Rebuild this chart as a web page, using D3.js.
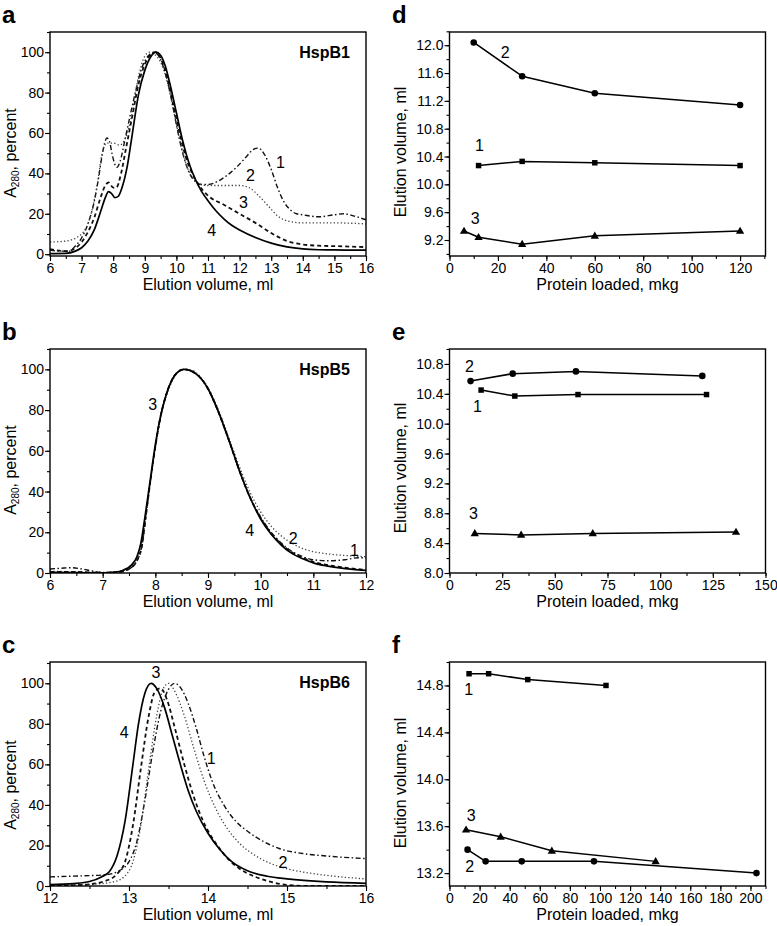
<!DOCTYPE html>
<html><head><meta charset="utf-8">
<script src="https://cdn.jsdelivr.net/npm/d3@7"></script>
<style>
body{margin:0;background:#fff;}
svg{display:block;font-family:"Liberation Sans",Arial,Helvetica,sans-serif;}
</style></head><body>
<svg id="fig" width="777" height="926"></svg>
<script>
// ---------------- DATA ----------------
// Panel a: HspB1 elution profiles (x = ml, y = A280 %)
const hspB1_1 = [[6,2],[6.3,1.5],[6.6,1.5],[6.8,4],[7.0,8],[7.2,15],[7.4,26],[7.55,39],[7.65,49],[7.73,55],[7.8,57.5],[7.88,56],[7.96,50],[8.04,45],[8.12,43],[8.22,46],[8.35,55],[8.5,66],[8.7,80],[8.9,92],[9.1,98],[9.28,100],[9.45,98],[9.6,92],[9.8,80],[10.0,64],[10.2,50],[10.4,40.5],[10.6,36],[10.8,34.5],[11.0,34.5],[11.3,36],[11.6,39],[11.9,43],[12.2,48],[12.45,52],[12.6,52.5],[12.8,49],[13.0,42],[13.2,33],[13.4,26],[13.6,22],[13.8,20],[14.0,19.5],[14.5,18.5],[15.0,19.5],[15.3,20],[15.6,19],[16,17]];
const hspB1_2 = [[6,6],[6.5,6.5],[7.0,10],[7.3,20],[7.5,35],[7.65,50],[7.8,55],[8.0,55],[8.2,54],[8.4,58],[8.6,70],[8.8,88],[9.0,98],[9.15,100],[9.3,99],[9.5,95],[9.7,86],[9.9,72],[10.1,57],[10.3,45],[10.5,38],[10.7,35],[11.0,34],[11.5,34],[12.0,34],[12.3,33],[12.6,29],[12.9,24],[13.2,19],[13.5,16.5],[14.0,15.5],[15,15.5],[16,15]];
const hspB1_3 = [[6,2.5],[6.5,1.5],[6.8,3],[7.0,6],[7.2,11],[7.4,18],[7.6,28],[7.75,34],[7.85,35.5],[8.0,33],[8.1,33],[8.25,40],[8.4,52],[8.6,68],[8.8,84],[9.0,94],[9.2,99],[9.35,100],[9.5,97],[9.7,88],[9.9,74],[10.1,60],[10.3,48],[10.5,40],[10.7,34.5],[11.0,29],[11.5,24.5],[12.0,20],[12.5,15.5],[13.0,10.5],[13.5,6.5],[14.0,4.8],[14.5,4.2],[15,4],[16,3.5]];
const hspB1_4 = [[6,0.3],[6.5,0.4],[6.8,1.5],[7.0,3.2],[7.2,6.5],[7.4,12],[7.6,21],[7.75,28],[7.85,31],[7.95,30],[8.05,28],[8.15,28.5],[8.3,34],[8.45,44],[8.6,59],[8.8,79],[9.0,91],[9.2,98],[9.35,100],[9.5,98.5],[9.65,93],[9.8,84],[10.0,70],[10.2,56],[10.4,45],[10.6,37],[10.8,31],[11.0,26.5],[11.25,21.5],[11.5,17.5],[11.75,14.3],[12.0,12],[12.5,8.3],[13.0,5.5],[13.5,3.6],[14.0,2.6],[14.5,2.2],[15,2.1],[16,2.0]];

// Panel b: HspB5
const hspB5_1 = [[6,2],[6.2,2.3],[6.4,2.6],[6.6,2],[6.8,1],[7.0,0.3],[7.3,0.5],[7.5,2],[7.65,6],[7.75,14],[7.82,28],[7.9,44],[8.0,62],[8.1,77],[8.2,87],[8.3,94],[8.4,98],[8.55,100],[8.7,99],[8.85,96],[9.0,90.5],[9.2,79],[9.4,65],[9.6,50],[9.8,37],[10.0,27.5],[10.2,20],[10.4,14.5],[10.6,10.5],[10.8,8],[11.0,6.5],[11.3,6],[11.6,6.5],[11.85,7.5],[12,7.5]];
const hspB5_2 = [[6,0.8],[6.5,0.6],[7.0,0.2],[7.3,0.8],[7.5,2.5],[7.65,7],[7.75,16],[7.85,34],[7.95,53],[8.05,70],[8.15,82],[8.25,90],[8.38,97],[8.5,100],[8.7,99.5],[8.85,96.5],[9.0,91],[9.2,80],[9.4,66],[9.6,52],[9.8,39.5],[10.0,30],[10.2,23],[10.4,18],[10.6,14.5],[10.8,12],[11.0,10.5],[11.3,9.3],[11.6,8.6],[12,8]];
const hspB5_3 = [[6,0.5],[6.5,0.5],[7.0,0.1],[7.3,0.5],[7.5,2],[7.65,6],[7.75,14],[7.82,28],[7.9,44],[8.0,62],[8.1,77],[8.2,87],[8.3,94],[8.4,98],[8.55,100],[8.7,99],[8.85,96],[9.0,90.5],[9.2,79],[9.4,65],[9.6,50],[9.8,37],[10.0,27],[10.2,19.5],[10.4,14],[10.6,10],[10.8,7.5],[11.0,5.5],[11.25,4],[11.5,3],[11.75,2.2],[12,1.5]];
const hspB5_4 = [[6,0.3],[6.5,0.2],[7.0,0],[7.2,0.3],[7.4,1.5],[7.55,4],[7.65,8],[7.72,14],[7.8,27],[7.9,45],[8.0,63],[8.1,77],[8.2,87],[8.3,94],[8.4,98],[8.55,100],[8.7,99],[8.85,96],[9.0,90.5],[9.2,79],[9.4,65],[9.6,50],[9.8,37],[10.0,26.5],[10.2,19],[10.4,13.5],[10.6,9.5],[10.8,7],[11.0,5],[11.25,3.5],[11.5,2.5],[11.75,1.8],[12,1.3]];

// Panel c: HspB6
const hspB6_1 = [[12,4.5],[12.4,5],[12.7,5.5],[12.85,7],[13.0,12],[13.1,22],[13.2,42],[13.3,66],[13.4,86],[13.5,97],[13.58,100],[13.65,98],[13.75,90],[13.85,78],[13.95,64],[14.05,52],[14.2,40],[14.35,32],[14.5,27],[14.7,22],[14.9,18.5],[15.2,16],[15.5,14.8],[16,13.5]];
const hspB6_2 = [[12,0.3],[12.5,0.8],[12.8,2],[12.95,5],[13.05,12],[13.15,30],[13.25,58],[13.35,84],[13.43,97],[13.5,100],[13.58,96],[13.7,84],[13.82,68],[13.95,52],[14.1,38],[14.25,28],[14.4,21],[14.6,15],[14.8,11],[15,8.5],[15.3,6.3],[15.6,4.8],[16,3.5]];
const hspB6_3 = [[12,0],[12.4,0.5],[12.7,2.5],[12.85,6],[12.95,12],[13.05,30],[13.15,58],[13.25,84],[13.33,96],[13.4,97.5],[13.48,92],[13.58,78],[13.7,60],[13.82,44],[13.95,31],[14.1,21],[14.25,13.5],[14.4,8.5],[14.6,4.5],[14.8,2],[15,0.5],[15.3,0],[16,0]];
const hspB6_4 = [[12,0.7],[12.3,1.2],[12.5,2.2],[12.65,4.5],[12.75,7],[12.85,15],[12.95,32],[13.05,60],[13.12,80],[13.2,95],[13.28,100],[13.35,97.5],[13.45,88],[13.55,74],[13.65,60],[13.75,47],[13.85,37],[14.0,26],[14.15,18],[14.3,12],[14.5,7.5],[14.75,4.8],[15.0,3.5],[15.5,2],[16,1.3]];

// Panel d: HspB1 elution volume vs protein loaded (mkg, ml)
const d_series1 = [[12,10.27],[30,10.33],[60,10.31],[120,10.27]];
const d_series2 = [[10,12.04],[30,11.555],[60,11.31],[120,11.14]];
const d_series3 = [[6,9.33],[12,9.24],[30,9.14],[60,9.26],[120,9.33]];
// Panel e: HspB5
const e_series1 = [[15,10.45],[31,10.37],[61,10.39],[122,10.39]];
const e_series2 = [[10,10.57],[30,10.67],[60,10.70],[120,10.64]];
const e_series3 = [[12,8.53],[34,8.51],[68,8.53],[136,8.55]];
// Panel f: HspB6
const f_series1 = [[13,14.9],[26,14.9],[52,14.85],[104,14.8]];
const f_series2 = [[12,13.4],[24,13.3],[48,13.3],[96,13.3],[204,13.2]];
const f_series3 = [[11,13.57],[34,13.51],[68,13.39],[137,13.3]];

// Tick values
const curveYTicks = [0,20,40,60,80,100];
const aXTicks = [6,7,8,9,10,11,12,13,14,15,16];
const bXTicks = [6,7,8,9,10,11,12];
const cXTicks = [12,13,14,15,16];
const dXTicks = [0,20,40,60,80,100,120];
const dYTicks = [9.2,9.6,10.0,10.4,10.8,11.2,11.6,12.0];
const eXTicks = [0,25,50,75,100,125,150];
const eYTicks = [8.0,8.4,8.8,9.2,9.6,10.0,10.4,10.8];
const fXTicks = [0,20,40,60,80,100,120,140,160,180,200];
const fYTicks = [13.2,13.6,14.0,14.4,14.8];

// Curve-number annotations (data coordinates)
const aLabels = [["1",13.29,45.7],["2",12.34,39.1],["3",12.12,25.7],["4",11.12,12.0]];
const bLabels = [["3",7.95,83.1],["4",9.79,21.0],["2",10.62,17.1],["1",11.78,11.2]];
const cLabels = [["3",13.34,105.6],["4",12.94,76.0],["1",14.04,62.9],["2",14.95,11.8]];
const dLabels = [["2",23.0,11.90],["1",12.4,10.56],["3",10.6,9.51]];
const eLabels = [["2",9.5,10.77],["1",13.3,10.23],["3",11.4,8.80]];
const fLabels = [["1",12.7,14.77],["3",14.5,13.69],["2",13.4,13.26]];

// ---------------- DRAWING ----------------
const svg = d3.select("#fig");
const STYLES = {
  s1: {dash: "5,2.5,1.5,2.5", color: "#111", width: 1.4},
  s2: {dash: "1.3,2.2", color: "#444", width: 1.3},
  s3: {dash: "4,3", color: "#111", width: 1.8},
  s4: {dash: null, color: "#000", width: 1.7}
};
let clipId = 0;

function range(a, b, step) {
  const out = [];
  for (let v = a; v <= b + 1e-9; v += step) out.push(+v.toFixed(6));
  return out;
}

function drawPanel(cfg) {
  const g = svg.append("g");
  const x = d3.scaleLinear().domain(cfg.xDomain).range([cfg.left, cfg.right]);
  const y = d3.scaleLinear().domain(cfg.yDomain).range([cfg.bottom, cfg.top]);

  // minor ticks
  g.append("g").attr("transform", `translate(0,${cfg.bottom})`)
    .call(d3.axisBottom(x).tickValues(cfg.xMinor).tickSize(3).tickFormat(""))
    .call(s => s.select(".domain").remove());
  g.append("g").attr("transform", `translate(${cfg.left},0)`)
    .call(d3.axisLeft(y).tickValues(cfg.yMinor).tickSize(3).tickFormat(""))
    .call(s => s.select(".domain").remove());
  // major ticks
  g.append("g").attr("transform", `translate(0,${cfg.bottom})`)
    .call(d3.axisBottom(x).tickValues(cfg.xTicks).tickSize(5).tickPadding(2).tickFormat(cfg.xFmt))
    .call(s => s.select(".domain").remove());
  g.append("g").attr("transform", `translate(${cfg.left},0)`)
    .call(d3.axisLeft(y).tickValues(cfg.yTicks).tickSize(5).tickPadding(1).tickFormat(cfg.yFmt))
    .call(s => s.select(".domain").remove());
  g.selectAll(".tick line").attr("stroke", "#000").attr("stroke-width", 1.1);
  g.selectAll(".tick text").attr("font-size", 14).attr("fill", "#000")
    .attr("font-family", '"Liberation Sans",Arial,sans-serif');

  // clip
  const cid = "clip" + (clipId++);
  svg.append("clipPath").attr("id", cid).append("rect")
    .attr("x", cfg.left).attr("y", cfg.top)
    .attr("width", cfg.right - cfg.left).attr("height", cfg.bottom - cfg.top);
  const plot = g.append("g").attr("clip-path", `url(#${cid})`);

  const line = d3.line().x(d => x(d[0])).y(d => y(d[1]));
  cfg.series.forEach(s => {
    const st = s.style ? STYLES[s.style] : {dash: null, color: "#000", width: 1.5};
    const l = s.smooth ? line.curve(d3.curveMonotoneX) : line.curve(d3.curveLinear);
    plot.append("path").datum(s.data)
      .attr("fill", "none").attr("stroke", st.color)
      .attr("stroke-width", st.width)
      .attr("stroke-dasharray", st.dash)
      .attr("stroke-linejoin", "round")
      .attr("d", l);
    if (s.marker) {
      const sym = s.marker === "circle" ? d3.symbolCircle : s.marker === "square" ? d3.symbolSquare : d3.symbolTriangle;
      const size = s.marker === "circle" ? 34 : 30;
      g.selectAll(null).data(s.data).enter().append("path")
        .attr("transform", d => `translate(${x(d[0])},${y(d[1]) + (s.marker === "triangle" ? 0.5 : 0)})`)
        .attr("d", d3.symbol().type(sym).size(size))
        .attr("fill", "#000");
    }
  });

  // frame
  g.append("rect").attr("x", cfg.left).attr("y", cfg.top)
    .attr("width", cfg.right - cfg.left).attr("height", cfg.bottom - cfg.top)
    .attr("fill", "none").attr("stroke", "#000").attr("stroke-width", 1.4);

  // curve labels
  g.selectAll(null).data(cfg.labels).enter().append("text")
    .attr("x", d => x(d[1])).attr("y", d => y(d[2]))
    .attr("dy", "0.36em").attr("text-anchor", "middle")
    .attr("font-size", 16).attr("fill", "#000").text(d => d[0]);

  // tag (HspB)
  if (cfg.tag) {
    g.append("text").attr("x", cfg.right - 16).attr("y", cfg.top + 26)
      .attr("text-anchor", "end").attr("font-size", 16).attr("font-weight", "bold")
      .text(cfg.tag);
  }

  // x title
  g.append("text").attr("x", (cfg.left + cfg.right) / 2).attr("y", cfg.bottom + 34)
    .attr("text-anchor", "middle").attr("font-size", 16).text(cfg.xTitle);

  // y title
  const yt = g.append("text")
    .attr("transform", `translate(${cfg.yTitleX},${cfg.yTitleCenter}) rotate(-90)`)
    .attr("text-anchor", "middle").attr("font-size", 16);
  if (cfg.yTitle === "A280") {
    yt.append("tspan").text("A");
    yt.append("tspan").attr("font-size", 10).attr("dy", 3).text("280");
    yt.append("tspan").attr("dy", -3).text(", percent");
  } else {
    yt.text(cfg.yTitle);
  }

  // panel letter
  g.append("text").attr("x", cfg.letterX).attr("y", cfg.top - 9)
    .attr("font-size", 24).attr("font-weight", "bold").text(cfg.letter);
}

const fmtInt = d3.format("d");
const fmt1 = d3.format(".1f");
const L = 50, R = 366, L2 = 449.5, R2 = 765.5;
const rows = [[32, 256], [349, 573], [662, 886]];
const leftCol = {left: L, right: R, yTitleX: 16, letterX: 2};
const rightCol = {left: L2, right: R2, yTitleX: 406, letterX: 392};

drawPanel(Object.assign({}, leftCol, {
  top: rows[0][0], bottom: rows[0][1],
  xDomain: [6, 16], yDomain: [-0.9, 110],
  xTicks: aXTicks, xMinor: range(6, 16, 0.5), yTicks: curveYTicks, yMinor: range(0, 110, 10),
  xFmt: fmtInt, yFmt: fmtInt, xTitle: "Elution volume, ml", yTitle: "A280", yTitleCenter: 153,
  letter: "a", tag: "HspB1", labels: aLabels,
  series: [
    {data: hspB1_1, style: "s1", smooth: true},
    {data: hspB1_2, style: "s2", smooth: true},
    {data: hspB1_3, style: "s3", smooth: true},
    {data: hspB1_4, style: "s4", smooth: true}
  ]
}));
drawPanel(Object.assign({}, leftCol, {
  top: rows[1][0], bottom: rows[1][1],
  xDomain: [6, 12], yDomain: [0, 110],
  xTicks: bXTicks, xMinor: range(6, 12, 0.5), yTicks: curveYTicks, yMinor: range(0, 110, 10),
  xFmt: fmtInt, yFmt: fmtInt, xTitle: "Elution volume, ml", yTitle: "A280", yTitleCenter: 470,
  letter: "b", tag: "HspB5", labels: bLabels,
  series: [
    {data: hspB5_1, style: "s1", smooth: true},
    {data: hspB5_2, style: "s2", smooth: true},
    {data: hspB5_3, style: "s3", smooth: true},
    {data: hspB5_4, style: "s4", smooth: true}
  ]
}));
drawPanel(Object.assign({}, leftCol, {
  top: rows[2][0], bottom: rows[2][1],
  xDomain: [12, 16], yDomain: [0, 110.5],
  xTicks: cXTicks, xMinor: range(12, 16, 0.5), yTicks: curveYTicks, yMinor: range(0, 110, 10),
  xFmt: fmtInt, yFmt: fmtInt, xTitle: "Elution volume, ml", yTitle: "A280", yTitleCenter: 785,
  letter: "c", tag: "HspB6", labels: cLabels,
  series: [
    {data: hspB6_1, style: "s1", smooth: true},
    {data: hspB6_2, style: "s2", smooth: true},
    {data: hspB6_3, style: "s3", smooth: true},
    {data: hspB6_4, style: "s4", smooth: true}
  ]
}));
drawPanel(Object.assign({}, rightCol, {
  top: rows[0][0], bottom: rows[0][1],
  xDomain: [0, 130.5], yDomain: [8.97, 12.19],
  xTicks: dXTicks, xMinor: range(0, 130, 10), yTicks: dYTicks, yMinor: range(9.0, 12.2, 0.2),
  xFmt: fmtInt, yFmt: fmt1, xTitle: "Protein loaded, mkg", yTitle: "Elution volume, ml", yTitleCenter: 152,
  letter: "d", labels: dLabels,
  series: [
    {data: d_series2, marker: "circle"},
    {data: d_series1, marker: "square"},
    {data: d_series3, marker: "triangle"}
  ]
}));
drawPanel(Object.assign({}, rightCol, {
  top: rows[1][0], bottom: rows[1][1],
  xDomain: [0, 150], yDomain: [8.0, 11.0],
  xTicks: eXTicks, xMinor: range(0, 150, 12.5), yTicks: eYTicks, yMinor: range(8.0, 11.0, 0.2),
  xFmt: fmtInt, yFmt: fmt1, xTitle: "Protein loaded, mkg", yTitle: "Elution volume, ml", yTitleCenter: 468,
  letter: "e", labels: eLabels,
  series: [
    {data: e_series2, marker: "circle"},
    {data: e_series1, marker: "square"},
    {data: e_series3, marker: "triangle"}
  ]
}));
drawPanel(Object.assign({}, rightCol, {
  top: rows[2][0], bottom: rows[2][1],
  xDomain: [0, 210], yDomain: [13.09, 15.0],
  xTicks: fXTicks, xMinor: range(0, 210, 10), yTicks: fYTicks, yMinor: range(13.2, 15.0, 0.2),
  xFmt: fmtInt, yFmt: fmt1, xTitle: "Protein loaded, mkg", yTitle: "Elution volume, ml", yTitleCenter: 783,
  letter: "f", labels: fLabels,
  series: [
    {data: f_series1, marker: "square"},
    {data: f_series2, marker: "circle"},
    {data: f_series3, marker: "triangle"}
  ]
}));
</script>
</body></html>
